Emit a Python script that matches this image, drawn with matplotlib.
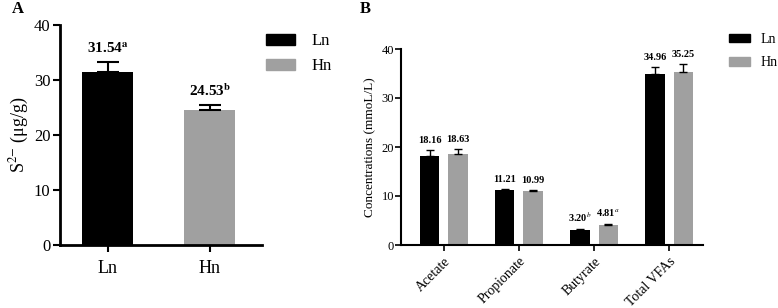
import numpy as np
import matplotlib.pyplot as plt
from matplotlib.patches import Patch

plt.rcParams['font.family'] = ['Liberation Serif', 'DejaVu Serif']
plt.rcParams['mathtext.fontset'] = 'stix'

# panel A: S2- content
groups_a = ['Ln', 'Hn']
s2_values = [31.54, 24.53]
s2_err = [1.7, 0.9]
s2_labels = ['31.54$^{\\mathbf{a}}$', '24.53$^{\\mathbf{b}}$']

# panel B: volatile fatty acids
vfa_names = ['Acetate', 'Propionate', 'Butyrate', 'Total VFAs']
vfa_ln = [18.16, 11.21, 3.1, 34.8]
vfa_hn = [18.63, 10.99, 4.1, 35.25]
vfa_ln_err = [1.2, 0.15, 0.25, 1.5]
vfa_hn_err = [1.0, 0.25, 0.25, 1.7]
vfa_ln_labels = ['18.16', '11.21', '3.20$^{b}$', '34.96']
vfa_hn_labels = ['18.63', '10.99', '4.81$^{a}$', '35.25']

black = '#000000'
grey = '#a0a0a0'

fig = plt.figure(figsize=(7.78, 3.08), dpi=100)

# ---- A ----
axA = fig.add_axes([60/778, 1-245/308, 202/778, 220/308])
xa = np.arange(len(groups_a))
axA.bar(xa, s2_values, width=0.5, color=[black, grey], zorder=2)
axA.errorbar(xa, s2_values, yerr=[[0, 0], s2_err], fmt='none', ecolor='black',
             elinewidth=1.5, capsize=8, capthick=1.5, zorder=3)
for x, v, e, t in zip(xa, s2_values, s2_err, s2_labels):
    axA.text(x, v + e + 1.2, t, ha='center', va='bottom', fontsize=11, fontweight='bold')
axA.set_xlim(-0.47, 1.51)
axA.set_ylim(0, 40)
axA.set_yticks([0, 10, 20, 30, 40])
axA.set_xticks(xa)
axA.set_xticklabels(groups_a, fontsize=13)
axA.tick_params(axis='y', labelsize=12, width=1.5, length=5, pad=2)
axA.tick_params(axis='x', width=1.5, length=5, pad=6)
axA.set_ylabel('S$^{2\\mathsf{-}}$ (μg/g)', fontsize=13, labelpad=2)
for s in ['top', 'right']:
    axA.spines[s].set_visible(False)
for s in ['left', 'bottom']:
    axA.spines[s].set_linewidth(2)

fig.legend(handles=[Patch(color=black, label='Ln'), Patch(color=grey, label='Hn')],
           loc='upper left', bbox_to_anchor=(258/778, 1-25/308), frameon=False,
           fontsize=12, handlelength=1.7, handleheight=0.6, handletextpad=1.0,
           labelspacing=0.55, borderpad=0)

# ---- B ----
axB = fig.add_axes([401/778, 1-245/308, 302/778, 196/308])
xb = np.arange(len(vfa_names))
w = 0.26
off = 0.19
axB.bar(xb - off, vfa_ln, width=w, color=black, zorder=2)
axB.bar(xb + off, vfa_hn, width=w, color=grey, zorder=2)
axB.errorbar(xb - off, vfa_ln, yerr=[[0]*4, vfa_ln_err], fmt='none', ecolor='black',
             elinewidth=1, capsize=3, capthick=1, zorder=3)
axB.errorbar(xb + off, vfa_hn, yerr=[[0]*4, vfa_hn_err], fmt='none', ecolor='black',
             elinewidth=1, capsize=3, capthick=1, zorder=3)
for x, v, e, t in zip(xb - off, vfa_ln, vfa_ln_err, vfa_ln_labels):
    axB.text(x, v + e + 1.0, t, ha='center', va='bottom', fontsize=7.5, fontweight='bold')
for x, v, e, t in zip(xb + off, vfa_hn, vfa_hn_err, vfa_hn_labels):
    axB.text(x, v + e + 1.0, t, ha='center', va='bottom', fontsize=7.5, fontweight='bold')
axB.set_xlim(-0.57, 3.45)
axB.set_ylim(0, 40)
axB.set_yticks([0, 10, 20, 30, 40])
axB.set_xticks(xb)
axB.set_xticklabels(vfa_names, rotation=45, ha='right', rotation_mode='anchor', fontsize=10)
axB.tick_params(axis='y', labelsize=9, width=1.2, length=4, pad=1)
axB.tick_params(axis='x', width=1.2, length=4, pad=3)
axB.set_ylabel('Concentrations (mmoL/L)', fontsize=9.5, labelpad=4)
for s in ['top', 'right']:
    axB.spines[s].set_visible(False)
for s in ['left', 'bottom']:
    axB.spines[s].set_linewidth(1.5)

fig.legend(handles=[Patch(color=black, label='Ln'), Patch(color=grey, label='Hn')],
           loc='upper left', bbox_to_anchor=(722/778, 1-26/308), frameon=False,
           fontsize=10, handlelength=1.5, handleheight=0.6, handletextpad=0.8,
           labelspacing=0.75, borderpad=0)

fig.text(12/778, 1-9/308, 'A', fontsize=12, fontweight='bold', va='center')
fig.text(360/778, 1-9/308, 'B', fontsize=12, fontweight='bold', va='center')

fig.savefig('out.png', dpi=100)
